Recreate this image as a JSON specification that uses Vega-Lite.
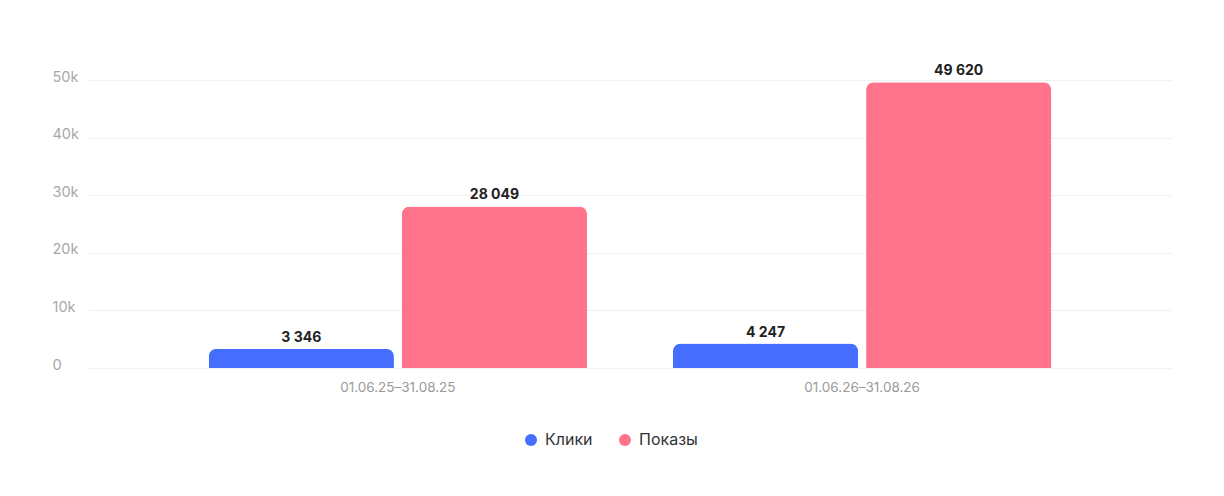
{
  "$schema": "https://vega.github.io/schema/vega-lite/v6.json",
  "width": 1084,
  "height": 288,
  "autosize": {"type": "none"},
  "padding": {"left": 88, "top": 80, "right": 52, "bottom": 128},
  "background": "white",
  "data": {
    "values": [
      {"period": "01.06.25–31.08.25", "metric": "Клики", "value": 3346},
      {"period": "01.06.25–31.08.25", "metric": "Показы", "value": 28049},
      {"period": "01.06.26–31.08.26", "metric": "Клики", "value": 4247},
      {"period": "01.06.26–31.08.26", "metric": "Показы", "value": 49620}
    ]
  },
  "encoding": {
    "x": {
      "field": "period",
      "type": "nominal",
      "title": null,
      "scale": {"paddingInner": 0.185, "paddingOuter": 0.26},
      "axis": {
        "labelAngle": 0,
        "domain": false,
        "ticks": false,
        "tickSize": 0,
        "labelPadding": 12,
        "labelFontSize": 13.5,
        "labelColor": "#9a9a9a"
      }
    },
    "xOffset": {
      "field": "metric",
      "type": "nominal",
      "scale": {"domain": ["Клики", "Показы"], "paddingInner": 0.041, "paddingOuter": 0}
    },
    "y": {
      "field": "value",
      "type": "quantitative",
      "title": null,
      "scale": {"domain": [0, 50000], "nice": false},
      "axis": {
        "values": [0, 10000, 20000, 30000, 40000, 50000],
        "labelExpr": "datum.value === 0 ? '0' : format(datum.value / 1000, 'd') + 'k'",
        "domain": false,
        "ticks": false,
        "tickSize": 0,
        "labelAlign": "left",
        "labelPadding": 36,
        "labelBaseline": "middle",
        "labelOffset": -3,
        "labelFontSize": 14.5,
        "labelColor": "#a8a8a8",
        "gridColor": "#f1f1f1",
        "gridWidth": 1
      }
    }
  },
  "layer": [
    {
      "mark": {"type": "bar", "cornerRadiusTopLeft": 8, "cornerRadiusTopRight": 8},
      "encoding": {
        "color": {
          "field": "metric",
          "type": "nominal",
          "title": null,
          "scale": {"domain": ["Клики", "Показы"], "range": ["#456eff", "#ff738b"]},
          "legend": {
            "orient": "none",
            "legendX": 435,
            "legendY": 352,
            "direction": "horizontal",
            "symbolType": "circle",
            "symbolSize": 144,
            "symbolStrokeWidth": 0,
            "labelOffset": 6,
            "labelFontSize": 16,
            "labelColor": "#333333",
            "columnPadding": 24
          }
        }
      }
    },
    {
      "mark": {
        "type": "text",
        "baseline": "bottom",
        "dy": -4,
        "fontSize": 14,
        "fontWeight": "bold",
        "color": "#222222"
      },
      "encoding": {
        "text": {"field": "value", "type": "quantitative", "format": ","}
      }
    }
  ],
  "config": {
    "font": "Inter",
    "locale": {
      "number": {"decimal": ",", "thousands": " ", "grouping": [3], "currency": ["", " ₽"]}
    },
    "view": {"stroke": null}
  }
}
